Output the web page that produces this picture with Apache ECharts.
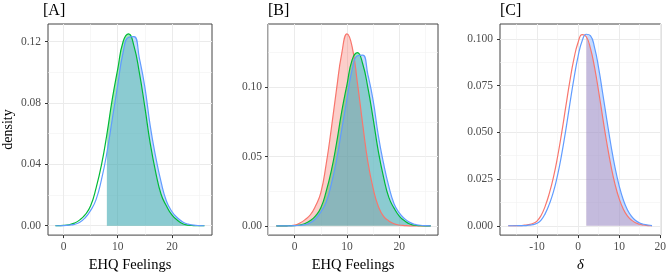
<!DOCTYPE html>
<html>
<head>
<meta charset="utf-8">
<script src="https://cdn.jsdelivr.net/npm/echarts@6.0.0/dist/echarts.min.js"></script>
<style>
html, body { margin: 0; padding: 0; background: #fff; }
#chart { width: 669px; height: 278px; }
</style>
</head>
<body>
<div id="chart"></div>
<script>
// density curves (x grid shared by panels A and B)
var xsAB = [-3.5, -3, -2, -1.5, -1, 0, 1, 2, 3, 4, 5, 6, 7, 8, 9, 10, 11, 12, 13, 14, 15, 16, 17, 18, 19, 20, 21, 22, 23, 24, 25, 26];
var redB = [0, 0, 0, 0, 0.0001, 0.0005, 0.0020, 0.0045, 0.0080, 0.0145, 0.0240, 0.0440, 0.0700, 0.0985, 0.1245, 0.1385, 0.1290, 0.1030, 0.0735, 0.0460, 0.0270, 0.0140, 0.0068, 0.0035, 0.0015, 0.0006, 0.0002, 0, 0, 0, 0, 0];
var green = [0, 0, 0, 0, 0.0001, 0.0002, 0.0006, 0.0017, 0.0038, 0.0072, 0.0130, 0.0245, 0.0396, 0.0596, 0.0826, 0.1020, 0.1200, 0.1250, 0.1170, 0.0996, 0.0774, 0.0536, 0.0350, 0.0205, 0.0128, 0.0070, 0.0036, 0.0013, 0.0004, 0.0001, 0, 0];
var blue = [0, 0, 0, 0, 0, 0.0001, 0.0004, 0.0009, 0.0022, 0.0052, 0.0100, 0.0170, 0.0300, 0.0475, 0.0696, 0.0916, 0.1130, 0.1228, 0.1232, 0.1090, 0.0905, 0.0650, 0.0450, 0.0285, 0.0160, 0.0093, 0.0052, 0.0025, 0.0010, 0.0004, 0.0001, 0];

// panel C (delta)
var xsC = [-17, -16, -15, -14, -13, -12, -11, -10, -9, -8, -7, -6, -5, -4, -3, -2, -1, 0, 1, 2, 3, 4, 5, 6, 7, 8, 9, 10, 11, 12, 13, 14, 15, 16, 17, 18];
var redC = [0, 0, 0.0001, 0.0001, 0.0003, 0.0006, 0.0012, 0.0025, 0.0055, 0.0105, 0.0173, 0.0259, 0.0368, 0.0496, 0.0636, 0.0774, 0.0894, 0.0981, 0.1023, 0.1012, 0.0951, 0.0849, 0.0720, 0.0579, 0.0443, 0.0322, 0.0222, 0.0145, 0.0090, 0.0053, 0.0030, 0.0016, 0.0008, 0.0004, 0.0001, 0];
var blueC = [0, 0, 0, 0.0001, 0.0001, 0.0003, 0.0006, 0.0013, 0.0030, 0.0065, 0.0116, 0.0181, 0.0270, 0.0381, 0.0511, 0.0652, 0.0789, 0.0907, 0.0990, 0.1025, 0.1018, 0.0955, 0.0845, 0.0708, 0.0567, 0.0431, 0.0311, 0.0214, 0.0139, 0.0086, 0.0051, 0.0028, 0.0015, 0.0008, 0.0004, 0.0001];

// shading starts
var shadeA = 8;
var shadeC = 2;

// ticks
var xTicksAB = [0, 10, 20];
var xMinorA = [5, 15, 25];
var xMinorB = [-5, 5, 15, 25];
var yTicksA = [0, 0.04, 0.08, 0.12];
var yMinorA = [0.02, 0.06, 0.10];
var yTicksB = [0, 0.05, 0.10];
var yMinorB = [0.025, 0.075, 0.125];
var xTicksC = [-10, 0, 10, 20];
var xMinorC = [-15, -5, 5, 15];
var yTicksC = [0, 0.025, 0.05, 0.075, 0.1];
var yMinorC = [0.0125, 0.0375, 0.0625, 0.0875];

var SERIF = "'Liberation Serif', 'DejaVu Serif', serif";
var RED = '#F8766D', GREEN = '#00BA38', BLUE = '#619CFF';

function axisPair(grid, min, max, majors, minors, digits, margin, extra) {
    var main = {
        type: 'value', gridIndex: grid, min: min, max: max,
        axisLine: { show: false, onZero: false },
        axisTick: { show: true, length: 3, customValues: majors, lineStyle: { color: '#333', width: 1 } },
        axisLabel: {
            customValues: majors, color: '#4d4d4d', fontFamily: SERIF, fontSize: 11.5, margin: margin,
            formatter: function (v) { return v.toFixed(digits); }
        },
        splitLine: { show: true, lineStyle: { color: '#ebebeb', width: 1 } }
    };
    Object.assign(main, extra || {});
    var minor = {
        type: 'value', gridIndex: grid, min: min, max: max,
        axisLine: { show: false, onZero: false },
        axisTick: { show: false, customValues: minors },
        axisLabel: { show: false },
        splitLine: { show: true, lineStyle: { color: '#f2f2f2', width: 0.6 } }
    };
    return [main, minor];
}

var xName = function (txt, italic) {
    return {
        name: txt, nameLocation: 'middle', nameGap: 17,
        nameTextStyle: { fontFamily: SERIF, fontSize: 14.5, color: '#000', fontStyle: italic ? 'italic' : 'normal' }
    };
};

var xAxes = [].concat(
    axisPair(0, -2.87, 27.4, xTicksAB, xMinorA, 0, 6, xName('EHQ Feelings')),
    axisPair(1, -5.1, 27.4, xTicksAB, xMinorB, 0, 6, xName('EHQ Feelings')),
    axisPair(2, -19.0, 20.1, xTicksC, xMinorC, 0, 6, xName('δ', true))
);
var yAxes = [].concat(
    axisPair(0, -0.0061, 0.1314, yTicksA, yMinorA, 2, 7, {
        name: 'density', nameLocation: 'middle', nameGap: 33, nameRotate: 90,
        nameTextStyle: { fontFamily: SERIF, fontSize: 14, color: '#000' }
    }),
    axisPair(1, -0.0067, 0.1457, yTicksB, yMinorB, 2, 6),
    axisPair(2, -0.005, 0.108, yTicksC, yMinorC, 3, 7)
);

function pts(xs, ys, from) {
    return xs.map(function (x, i) { return [x, ys[i]]; })
        .filter(function (p) { return p[0] >= from; });
}

function curve(ax, data, color, area, line) {
    return {
        type: 'line', xAxisIndex: ax, yAxisIndex: ax, data: data,
        smooth: 0.5, symbol: 'none', silent: true,
        lineStyle: { color: color, width: line ? 1.2 : 0 },
        itemStyle: { color: color },
        areaStyle: area ? { color: color, opacity: 0.36 } : undefined
    };
}

var series = [
    // A
    curve(0, pts(xsAB, green, shadeA), GREEN, true, false),
    curve(0, pts(xsAB, green, -1.5), GREEN, false, true),
    curve(0, pts(xsAB, blue, shadeA), BLUE, true, false),
    curve(0, pts(xsAB, blue, -1.5), BLUE, false, true),
    // B
    curve(2, pts(xsAB, redB, -3.5), RED, true, true),
    curve(2, pts(xsAB, green, -3.5), GREEN, true, true),
    curve(2, pts(xsAB, blue, -3.5), BLUE, true, true),
    // C
    curve(4, pts(xsC, redC, shadeC), RED, true, false),
    curve(4, pts(xsC, redC, -17), RED, false, true),
    curve(4, pts(xsC, blueC, shadeC), BLUE, true, false),
    curve(4, pts(xsC, blueC, -17), BLUE, false, true)
];

var gridStyle = { show: true, borderColor: '#444', borderWidth: 1, backgroundColor: 'transparent' };
var titleStyle = { fontFamily: SERIF, fontSize: 16, fontWeight: 'normal', color: '#000' };

var option = {
    animation: false,
    backgroundColor: '#fff',
    title: [
        { text: '[A]', left: 43, top: 3, padding: 0, textStyle: titleStyle },
        { text: '[B]', left: 268, top: 3, padding: 0, textStyle: titleStyle },
        { text: '[C]', left: 500, top: 3, padding: 0, textStyle: titleStyle }
    ],
    grid: [
        Object.assign({ left: 43, top: 24, width: 169, height: 220 }, gridStyle),
        Object.assign({ left: 268, top: 24, width: 170, height: 220 }, gridStyle),
        Object.assign({ left: 500, top: 24, width: 163, height: 220 }, gridStyle)
    ],
    xAxis: xAxes,
    yAxis: yAxes,
    series: series
};

echarts.init(document.getElementById('chart'), null, { renderer: 'canvas' }).setOption(option);
</script>
</body>
</html>
